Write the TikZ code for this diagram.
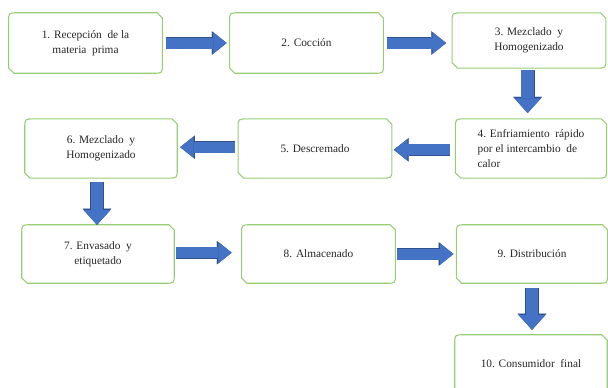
\documentclass[tikz,border=0pt]{standalone}
\usepackage{fontspec}
\setmainfont{Liberation Serif}
\usepackage{xcolor}
\usetikzlibrary{arrows.meta}

\definecolor{framegreen}{RGB}{150,205,115}
\definecolor{arrowblue}{RGB}{68,114,196}
\definecolor{arrowedge}{RGB}{47,82,143}

\tikzset{
	stepbox/.style={minimum width=115pt, minimum height=45pt, inner sep=0pt,
		align=center, text=black!85, font=\fontsize{8.5}{11}\selectfont},
	hflow/.style={line width=8.25pt, arrowblue,
		-{Triangle[width=16pt,length=10pt,line width=0.1pt]},
		preaction={draw=arrowedge, line width=9pt,
			-{Triangle[width=17.5pt,length=11pt,line width=0.1pt]}}},
	vflow/.style={hflow, line width=9.5pt,
		-{Triangle[width=20pt,length=11pt,line width=0.1pt]},
		preaction={draw=arrowedge, line width=10.25pt,
			-{Triangle[width=21.5pt,length=12pt,line width=0.1pt]}}}
}

% green frame, round corners NW/SE, snipped corners NE/SW
\newcommand{\stepframe}[1]{%
	\draw[framegreen, line width=0.8pt]
		([xshift=7pt]#1.north west) -- ([xshift=-4pt]#1.north east)
		-- ([yshift=-4pt]#1.north east) -- ([yshift=7pt]#1.south east)
		.. controls (#1.south east) .. ([xshift=-7pt]#1.south east)
		-- ([xshift=4pt]#1.south west) -- ([yshift=4pt]#1.south west)
		-- ([yshift=-7pt]#1.north west)
		.. controls (#1.north west) .. ([xshift=7pt]#1.north west) -- cycle;}

\begin{document}
\begin{tikzpicture}[x=0.75pt,y=-0.75pt]
	\useasboundingbox (0,0) rectangle (608,387);
	\clip (0,0) rectangle (608,387);
	%
	\node[stepbox] (b1) at (85.5,43) {1. Recepción\ \ de la\\materia\ \ prima};
	\node[stepbox] (b2) at (306.5,43) {2. Cocción};
	\node[stepbox, minimum height=41pt] (b3) at (529,40.5) {3. Mezclado\ \ y\\Homogenizado};
	\node[stepbox, minimum width=113pt, minimum height=44pt, align=left] (b4) at (531,148.5)
		{4. Enfriamiento\ \ rápido\\por el intercambio\ \ de\\calor};
	\node[stepbox, minimum height=44pt] (b5) at (315,148.5) {5. Descremado};
	\node[stepbox, minimum width=114pt, minimum height=44pt] (b6) at (101,148.5) {6. Mezclado\ \ y\\Homogenizado};
	\node[stepbox, minimum width=114pt, minimum height=43.5pt] (b7) at (98,254) {7. Envasado\ \ y\\etiquetado};
	\node[stepbox, minimum height=43.5pt] (b8) at (318.5,254) {8. Almacenado};
	\node[stepbox, minimum width=113pt, minimum height=43.5pt] (b9) at (532,254) {9. Distribución};
	\node[stepbox, minimum width=114pt, minimum height=43.5pt] (b10) at (531,364) {10. Consumidor\ \ final};
	%
	\foreach \n in {b1,b2,b3,b4,b5,b6,b7,b8,b9,b10}
		\stepframe{\n};
	%
	\draw[hflow, shorten <=3pt, shorten >=2.25pt] (b1.east) -- (b2.west);
	\draw[hflow, shorten <=3pt, shorten >=4.5pt] (b2.east) -- (b2.east -| b3.west);
	\draw[vflow, shorten <=1.5pt, shorten >=4.5pt] ([xshift=-1pt]b3.south) -- ([xshift=-1pt]b3.south |- b4.north);
	\draw[hflow, shorten <=3.75pt, shorten >=1.5pt] ([yshift=-1pt]b4.west) -- ([yshift=-1pt]b4.west -| b5.east);
	\draw[hflow, shorten <=2.25pt, shorten >=2.25pt] ([yshift=1pt]b5.west) -- ([yshift=1pt]b5.west -| b6.east);
	\draw[vflow, shorten <=3pt, shorten >=0pt] ([xshift=-3pt]b6.south) -- ([xshift=-3pt]b6.south |- b7.north);
	\draw[hflow, shorten <=1.5pt, shorten >=7.5pt] ([yshift=1pt]b7.east) -- ([yshift=1pt]b7.east -| b8.west);
	\draw[hflow, shorten <=1.5pt, shorten >=2.25pt] (b8.east) -- (b9.west);
	\draw[vflow, shorten <=3.75pt, shorten >=3.75pt] (b9.south) -- (b9.south |- b10.north);
\end{tikzpicture}
\end{document}
